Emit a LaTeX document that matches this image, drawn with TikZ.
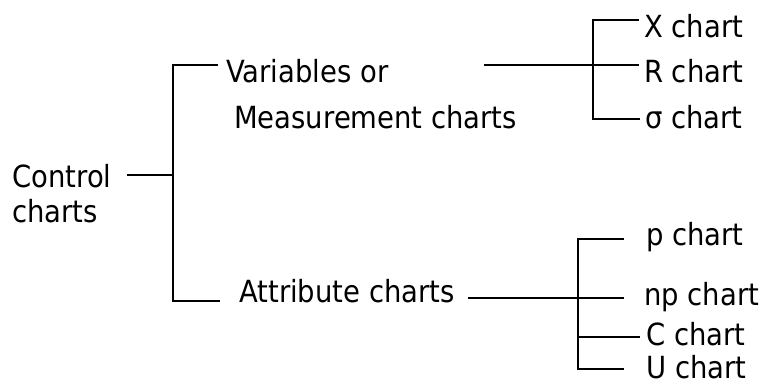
\documentclass[tikz,border=0pt]{standalone}
\usepackage{fontspec}
\setmainfont{DejaVu Sans}[FakeStretch=0.9]
\begin{document}
\begin{tikzpicture}[x=1pt,y=-1pt,
  lbl/.style={anchor=base west, inner sep=0pt, font=\fontsize{30.5}{36}\selectfont},
  ln/.style={line width=1.7pt}]
\useasboundingbox (0,0) rectangle (765,383);
% texts
\node[lbl] (ctrl)  at (12,187) {Control};
\node[lbl] (ctrlb) at (12,222) {charts};
\node[lbl] (var)   at (226,82) {Variables or};
\node[lbl] (meas)  at (234,128) {Measurement charts};
\node[lbl] (attr)  at (239,302) {Attribute charts};
\node[lbl] (xc)    at (644,37) {X chart};
\node[lbl] (rc)    at (644,82) {R chart};
\node[lbl] (sc)    at (645,128) {σ chart};
\node[lbl] (pc)    at (646,245) {p chart};
\node[lbl] (npc)   at (644,305) {np chart};
\node[lbl] (cc)    at (646,345) {C chart};
\node[lbl] (uc)    at (646,378) {U chart};
% junction coordinates
\coordinate (ct0) at (127,175);
\coordinate (ct1) at (173,175);
\coordinate (mtop) at (173,65);
\coordinate (mtopE) at (218,65);
\coordinate (mbot) at (173,301);
\coordinate (mbotE) at (220,301);
\coordinate (v0) at (484,65);
\coordinate (v1) at (639,65);
\coordinate (xb) at (593,20);
\coordinate (xbE) at (639,20);
\coordinate (sb) at (593,119);
\coordinate (sbE) at (640,119);
\coordinate (a0) at (468,298);
\coordinate (a1) at (624,298);
\coordinate (pb) at (578,239);
\coordinate (pbE) at (624,239);
\coordinate (cb) at (578,337);
\coordinate (cbE) at (640,337);
\coordinate (ub) at (578,369);
\coordinate (ubE) at (624,369);
% connectors
\draw[ln] (ct0) -- (ct1);
\draw[ln] (mtopE) -- (mtop) -- (mbot) -- (mbotE);
\draw[ln] (v0) -- (v1);
\draw[ln] (xbE) -- (xb) -- (sb) -- (sbE);
\draw[ln] (a0) -- (a1);
\draw[ln] (pbE) -- (pb) -- (ub) -- (ubE);
\draw[ln] (cb) -- (cbE);
\end{tikzpicture}
\end{document}
